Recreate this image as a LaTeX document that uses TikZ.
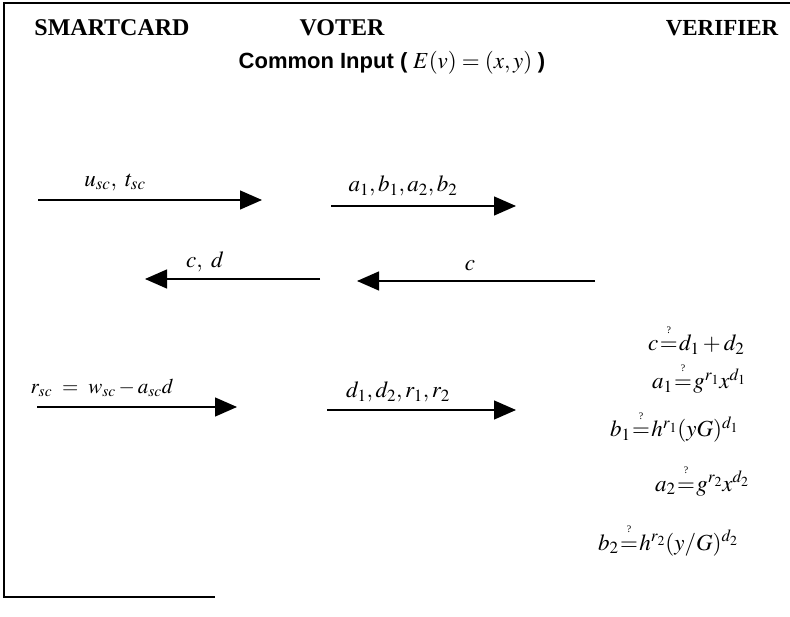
\documentclass[tikz,border=0pt]{standalone}
\usepackage{amsmath}
\usepackage{mathptmx}
\usepackage{fontspec}
\setmainfont{Liberation Serif}
\newfontfamily\headsans{Liberation Sans}
\usetikzlibrary{arrows.meta}
\tikzset{
  head/.style={font=\fontsize{24}{28}\selectfont\bfseries, inner sep=0pt},
  lbl/.style={font=\fontsize{23}{26}\selectfont, inner sep=0pt},
  eqn/.style={font=\fontsize{23}{26}\selectfont, inner sep=0pt, anchor=base west},
  qm/.style={font=\fontsize{10}{11}\selectfont, inner sep=0pt, anchor=south},
  msg/.style={line width=1.3pt, -{Triangle[length=22pt,width=19pt]}},
  frame/.style={line width=1.8pt}
}
\begin{document}
\begin{tikzpicture}[x=1pt,y=-1pt]
\useasboundingbox (0,0) rectangle (790,617);
% frame
\coordinate (ftl) at (4,3);
\coordinate (ftr) at (790,3);
\coordinate (fbl) at (4,597);
\coordinate (fbr) at (215,597);
\draw[frame] (ftr) -- (ftl) -- (fbl) -- (fbr);
% headings
\node[head] (sc) at (112,28) {SMARTCARD};
\node[head] (vo) at (342,28) {VOTER};
\node[head,font=\fontsize{23}{28}\selectfont\bfseries] (ve) at (722,28) {VERIFIER};
\node[lbl] (ci) at (392,63) {{\headsans\bfseries\fontsize{22}{24}\selectfont Common Input (} $E(v) = (x, y)$ {\headsans\bfseries\fontsize{22}{24}\selectfont )}};
% messages
\coordinate (m1s) at (38,200);  \coordinate (m1e) at (262,200);
\coordinate (m2s) at (331,206); \coordinate (m2e) at (516,206);
\coordinate (m3s) at (320,279); \coordinate (m3e) at (145,279);
\coordinate (m4s) at (595,281); \coordinate (m4e) at (357,281);
\coordinate (m5s) at (37,407);  \coordinate (m5e) at (237,407);
\coordinate (m6s) at (327,410); \coordinate (m6e) at (516,410);
\draw[msg] (m1s) -- (m1e);
\draw[msg] (m2s) -- (m2e);
\draw[msg] (m3s) -- (m3e);
\draw[msg] (m4s) -- (m4e);
\draw[msg] (m5s) -- (m5e);
\draw[msg] (m6s) -- (m6e);
\node[lbl] (l1) at (115,182) {$u_{sc},\ t_{sc}$};
\node[lbl] (l2) at (403,186) {$a_1,b_1,a_2,b_2$};
\node[lbl] (l3) at (205,262) {$c,\ d$};
\node[lbl] (l4) at (470,266) {$c$};
\node[lbl,font=\fontsize{21}{24}\selectfont] (l5) at (102,388) {$r_{sc}\ =\ w_{sc} - a_{sc}d$};
\node[lbl] (l6) at (398,392) {$d_1,d_2,r_1,r_2$};
% verification equations
\node[eqn] (e1l) at (648,351) {$c$};
\node[eqn] (e1q) at ([xshift=1pt]e1l.base east) {$=$};
\node[eqn] (e1r) at ([xshift=1pt]e1q.base east) {$d_1+d_2$};
\node[qm] (e1m) at ([yshift=9pt]e1q.north) {?};
%
\node[eqn] (e2l) at (652,389) {$a_1$};
\node[eqn] (e2q) at ([xshift=1pt]e2l.base east) {$=$};
\node[eqn] (e2r) at ([xshift=1pt]e2q.base east) {$g^{r_1}x^{d_1}$};
\node[qm] (e2m) at ([yshift=9pt]e2q.north) {?};
%
\node[eqn] (e3l) at (610,437) {$b_1$};
\node[eqn] (e3q) at ([xshift=1pt]e3l.base east) {$=$};
\node[eqn] (e3r) at ([xshift=1pt]e3q.base east) {$h^{r_1}(yG)^{d_1}$};
\node[qm] (e3m) at ([yshift=9pt]e3q.north) {?};
%
\node[eqn] (e4l) at (655,491) {$a_2$};
\node[eqn] (e4q) at ([xshift=1pt]e4l.base east) {$=$};
\node[eqn] (e4r) at ([xshift=1pt]e4q.base east) {$g^{r_2}x^{d_2}$};
\node[qm] (e4m) at ([yshift=9pt]e4q.north) {?};
%
\node[eqn] (e5l) at (598,550) {$b_2$};
\node[eqn] (e5q) at ([xshift=1pt]e5l.base east) {$=$};
\node[eqn] (e5r) at ([xshift=1pt]e5q.base east) {$h^{r_2}(y/G)^{d_2}$};
\node[qm] (e5m) at ([yshift=9pt]e5q.north) {?};
\end{tikzpicture}
\end{document}
